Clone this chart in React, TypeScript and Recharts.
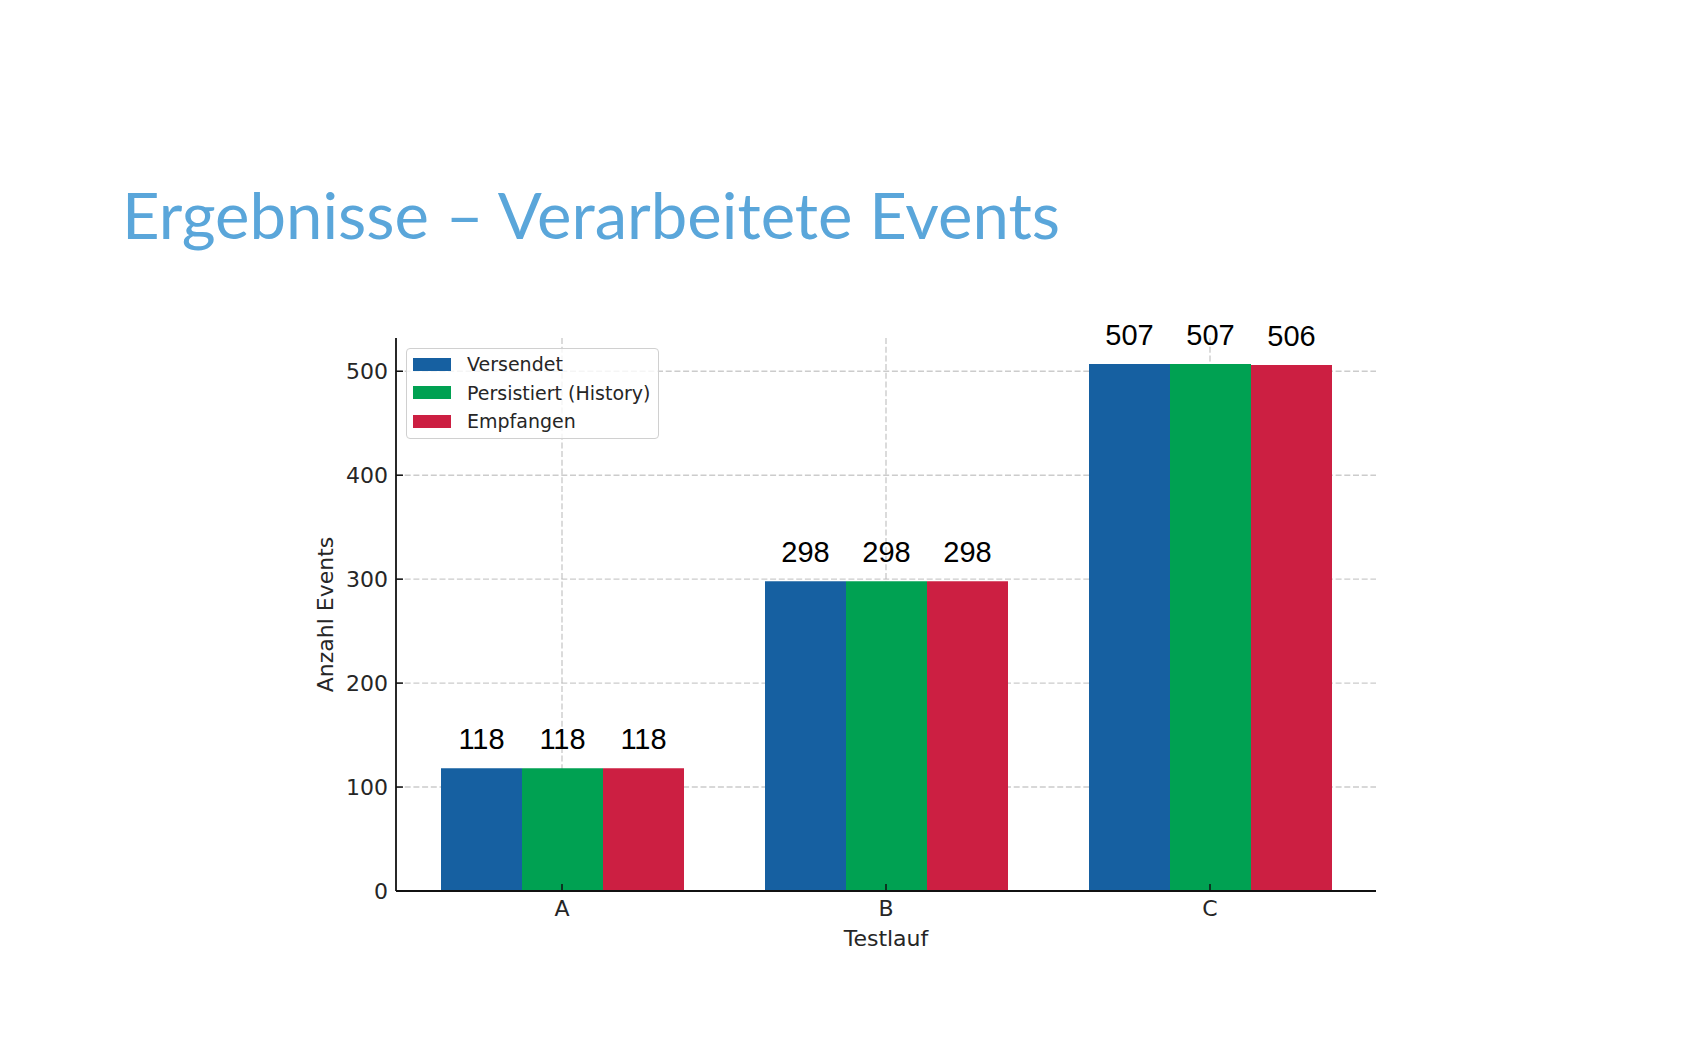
import React from 'react';
import {
  BarChart,
  Bar,
  XAxis,
  YAxis,
  CartesianGrid,
  Legend,
  LabelList,
} from 'recharts';

// Testlaeufe und Werte
const testlaeufe = ['A', 'B', 'C'];
const versendet = [118, 298, 507];
const persistiert = [118, 298, 507];
const empfangen = [118, 298, 506];
const yTicks = [0, 100, 200, 300, 400, 500];

const series = [
  { key: 'versendet', name: 'Versendet', color: '#1660A1' },
  { key: 'persistiert', name: 'Persistiert (History)', color: '#00A152' },
  { key: 'empfangen', name: 'Empfangen', color: '#CC1F42' },
];

const chartData = testlaeufe.map((name, i) => ({
  name,
  versendet: versendet[i],
  persistiert: persistiert[i],
  empfangen: empfangen[i],
}));

const TICK_FONT = 'DejaVu Sans';
const TEXT_COLOR = '#262626';

/**
 * Wertebeschriftung ueber jedem Balken.
 */
function ValueLabel(props: any) {
  const { x, y, width, value } = props;
  return (
    <text
      x={Number(x) + Number(width) / 2}
      y={Number(y) - 19}
      textAnchor="middle"
      fontFamily="Liberation Sans"
      fontSize={29}
      fill="#000"
    >
      {value}
    </text>
  );
}

/**
 * Legende im matplotlib-Stil (Reihenfolge wie die Serien).
 */
function LegendBox() {
  return (
    <div
      style={{
        boxSizing: 'border-box',
        width: 253,
        height: 91,
        border: '1.5px solid #d0d0d0',
        borderRadius: 4,
        background: 'rgba(255,255,255,0.8)',
        paddingTop: 1,
        paddingLeft: 6,
      }}
    >
      {series.map((s) => (
        <div
          key={s.key}
          style={{ display: 'flex', alignItems: 'center', height: 28.5 }}
        >
          <span
            style={{
              display: 'inline-block',
              width: 38,
              height: 13,
              background: s.color,
              marginRight: 16,
            }}
          />
          <span
            style={{
              fontFamily: TICK_FONT,
              fontSize: 19,
              color: TEXT_COLOR,
              whiteSpace: 'nowrap',
            }}
          >
            {s.name}
          </span>
        </div>
      ))}
    </div>
  );
}

function YLabel(props: any) {
  const vb = props.viewBox || {};
  const cx = vb.x + 17;
  const cy = vb.y + vb.height / 2;
  return (
    <text
      x={cx}
      y={cy}
      transform={`rotate(-90 ${cx} ${cy})`}
      textAnchor="middle"
      fontFamily={TICK_FONT}
      fontSize={22}
      fill={TEXT_COLOR}
    >
      Anzahl Events
    </text>
  );
}

function XLabel(props: any) {
  const vb = props.viewBox || {};
  return (
    <text
      x={vb.x + vb.width / 2}
      y={vb.y + 55}
      textAnchor="middle"
      fontFamily={TICK_FONT}
      fontSize={22}
      fill={TEXT_COLOR}
    >
      Testlauf
    </text>
  );
}

export default function App() {
  return (
    <div
      style={{
        position: 'absolute',
        left: 0,
        top: 0,
        width: 1698,
        height: 1061,
        background: '#fff',
      }}
    >
      <svg
        width={1698}
        height={300}
        style={{ position: 'absolute', left: 0, top: 0 }}
      >
        <text
          x={122}
          y={239}
          fontFamily="Lato"
          fontSize={64}
          fill="#5AA6DA"
          textLength={938}
          lengthAdjust="spacingAndGlyphs"
        >
          Ergebnisse – Verarbeitete Events
        </text>
      </svg>
      <div style={{ position: 'absolute', left: 0, top: 0 }}>
        <BarChart
          width={1698}
          height={1061}
          data={chartData}
          margin={{ top: 338, right: 322, bottom: 90, left: 316 }}
          barGap={0}
        >
          <XAxis
            dataKey="name"
            padding={{ left: 4, right: 4 }}
            height={80}
            axisLine={{ stroke: '#111', strokeWidth: 1.8 }}
            tickLine={{ stroke: '#111', strokeWidth: 1.5 }}
            tickSize={-7}
            tickMargin={16}
            tick={{ fontFamily: TICK_FONT, fontSize: 22, fill: TEXT_COLOR }}
            label={(p: any) => <XLabel {...p} />}
          />
          <YAxis
            type="number"
            domain={[0, 532]}
            ticks={yTicks}
            width={80}
            allowDataOverflow
            axisLine={{ stroke: '#111', strokeWidth: 1.8 }}
            tickLine={{ stroke: '#111', strokeWidth: 1.5 }}
            tickSize={-7}
            tickMargin={15}
            tick={{ fontFamily: TICK_FONT, fontSize: 22, fill: TEXT_COLOR }}
            label={(p: any) => <YLabel {...p} />}
          />
          <Legend
            layout="vertical"
            align="center"
            verticalAlign="middle"
            content={<LegendBox />}
            wrapperStyle={{ left: 406, top: 348, width: 253, height: 91 }}
          />
          {series.map((s) => (
            <Bar
              key={s.key}
              dataKey={s.key}
              name={s.name}
              fill={s.color}
              barSize={81}
              isAnimationActive={false}
            >
              <LabelList dataKey={s.key} content={<ValueLabel />} />
            </Bar>
          ))}
          <CartesianGrid
            syncWithTicks
            strokeDasharray="6 2.7"
            stroke="#b0b0b0"
            strokeOpacity={0.65}
            strokeWidth={1.4}
          />
        </BarChart>
      </div>
    </div>
  );
}
